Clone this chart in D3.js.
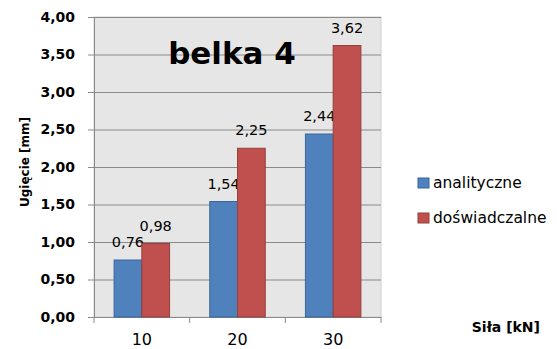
<!doctype html>
<html lang="en">
<head>
    <meta charset="utf-8">
    <title></title>
    <script src="https://d3js.org/d3.v7.min.js"></script>
    <style type="text/css">
        body { margin: 0; background: #fff; }
        text { font-family: "DejaVu Sans", sans-serif; fill: #000; }
    </style>
</head>

<body>
</body>

<script type="text/javascript">

    var width  = 557;
    var height = 349;

    var categories = ["10", "20", "30"];
    var seriesNames = ["analityczne", "doświadczalne"];
    var analityczne = [0.76, 1.54, 2.44];
    var doswiadczalne = [0.98, 2.25, 3.62];
    var yTicks = [0, 0.5, 1, 1.5, 2, 2.5, 3, 3.5, 4];
    var colors = ["#4F81BD", "#C0504D"];
    var strokes = ["#3A6595", "#93403E"];

    var margin = {left: 94, right: 176, top: 17, bottom: 32};
    var plotW = width - margin.left - margin.right;
    var plotH = height - margin.top - margin.bottom;

    var fmt = d => d3.format(".2f")(d).replace(".", ",");

    var x = d3.scaleBand()
        .domain(categories)
        .range([0, plotW]);

    var xSub = d3.scaleBand()
        .domain(seriesNames)
        .range([0, x.bandwidth() * 0.58]);

    var y = d3.scaleLinear()
        .domain([0, 4])
        .range([plotH, 0]);

    var svg = d3.select("body")
        .append("svg")
        .attr("width", width)
        .attr("height", height);

    var g = svg.append("g")
        .attr("transform", "translate(" + margin.left + "," + margin.top + ")");

    g.append("rect")
        .attr("width", plotW)
        .attr("height", plotH)
        .attr("fill", "#e6e6e6")
        .attr("stroke", "#d0d0d0");

    g.selectAll(".grid")
        .data(yTicks.slice(1))
        .enter()
        .append("line")
        .attr("x1", 0)
        .attr("x2", plotW)
        .attr("y1", d => y(d) + 0.5)
        .attr("y2", d => y(d) + 0.5)
        .attr("stroke", "#8a8a8a");

    var yAxis = g.append("g")
        .call(d3.axisLeft(y).tickValues(yTicks).tickFormat(fmt).tickSize(6).tickPadding(13));
    yAxis.select(".domain").attr("stroke", "#8a8a8a");
    yAxis.selectAll(".tick line").attr("stroke", "#8a8a8a");
    yAxis.selectAll("text")
        .style("font-family", "'DejaVu Sans', sans-serif")
        .style("font-size", "14px")
        .style("font-weight", "bold")
        .attr("fill", "#000");

    var xAxis = g.append("g")
        .attr("transform", "translate(0," + plotH + ")")
        .call(d3.axisBottom(x).tickSize(0).tickPadding(17));
    xAxis.select(".domain").attr("stroke", "#8a8a8a");
    xAxis.selectAll("text")
        .style("font-family", "'DejaVu Sans', sans-serif")
        .style("font-size", "16px")
        .attr("fill", "#000");

    g.selectAll(".xtick")
        .data(d3.range(categories.length + 1))
        .enter()
        .append("line")
        .attr("x1", d => d * x.step())
        .attr("x2", d => d * x.step())
        .attr("y1", plotH)
        .attr("y2", plotH + 6)
        .attr("stroke", "#8a8a8a");

    var data = [analityczne, doswiadczalne];

    data.forEach(function(vals, s) {
        var off = (x.bandwidth() - xSub.range()[1]) / 2 + xSub(seriesNames[s]);
        g.selectAll(".bar" + s)
            .data(vals)
            .enter()
            .append("rect")
            .attr("x", (d, i) => x(categories[i]) + off)
            .attr("y", d => y(d))
            .attr("width", xSub.bandwidth())
            .attr("height", d => plotH - y(d))
            .attr("fill", colors[s])
            .attr("stroke", strokes[s]);

        g.selectAll(".lab" + s)
            .data(vals)
            .enter()
            .append("text")
            .attr("x", (d, i) => x(categories[i]) + off + xSub.bandwidth() / 2)
            .attr("y", d => y(d) - 13)
            .attr("text-anchor", "middle")
            .style("font-size", "14.5px")
            .text(d => fmt(d));
    });

    svg.append("text")
        .attr("x", 232)
        .attr("y", 64)
        .attr("text-anchor", "middle")
        .style("font-size", "31px")
        .style("font-weight", "bold")
        .text("belka 4");

    svg.append("text")
        .attr("transform", "translate(29,162) rotate(-90)")
        .attr("text-anchor", "middle")
        .style("font-size", "12px")
        .style("font-weight", "bold")
        .text("Ugięcie [mm]");

    svg.append("text")
        .attr("x", 540)
        .attr("y", 332)
        .attr("text-anchor", "end")
        .style("font-size", "14px")
        .style("font-weight", "bold")
        .text("Siła [kN]");

    var legend = svg.selectAll(".legend")
        .data(seriesNames)
        .enter()
        .append("g")
        .attr("transform", (d, i) => "translate(418," + (178 + i * 35) + ")");

    legend.append("rect")
        .attr("width", 11)
        .attr("height", 10)
        .attr("fill", (d, i) => colors[i])
        .attr("stroke", (d, i) => strokes[i]);

    legend.append("text")
        .attr("x", 15)
        .attr("y", 10)
        .style("font-size", "15.5px")
        .text(d => d);

</script>

</html>
